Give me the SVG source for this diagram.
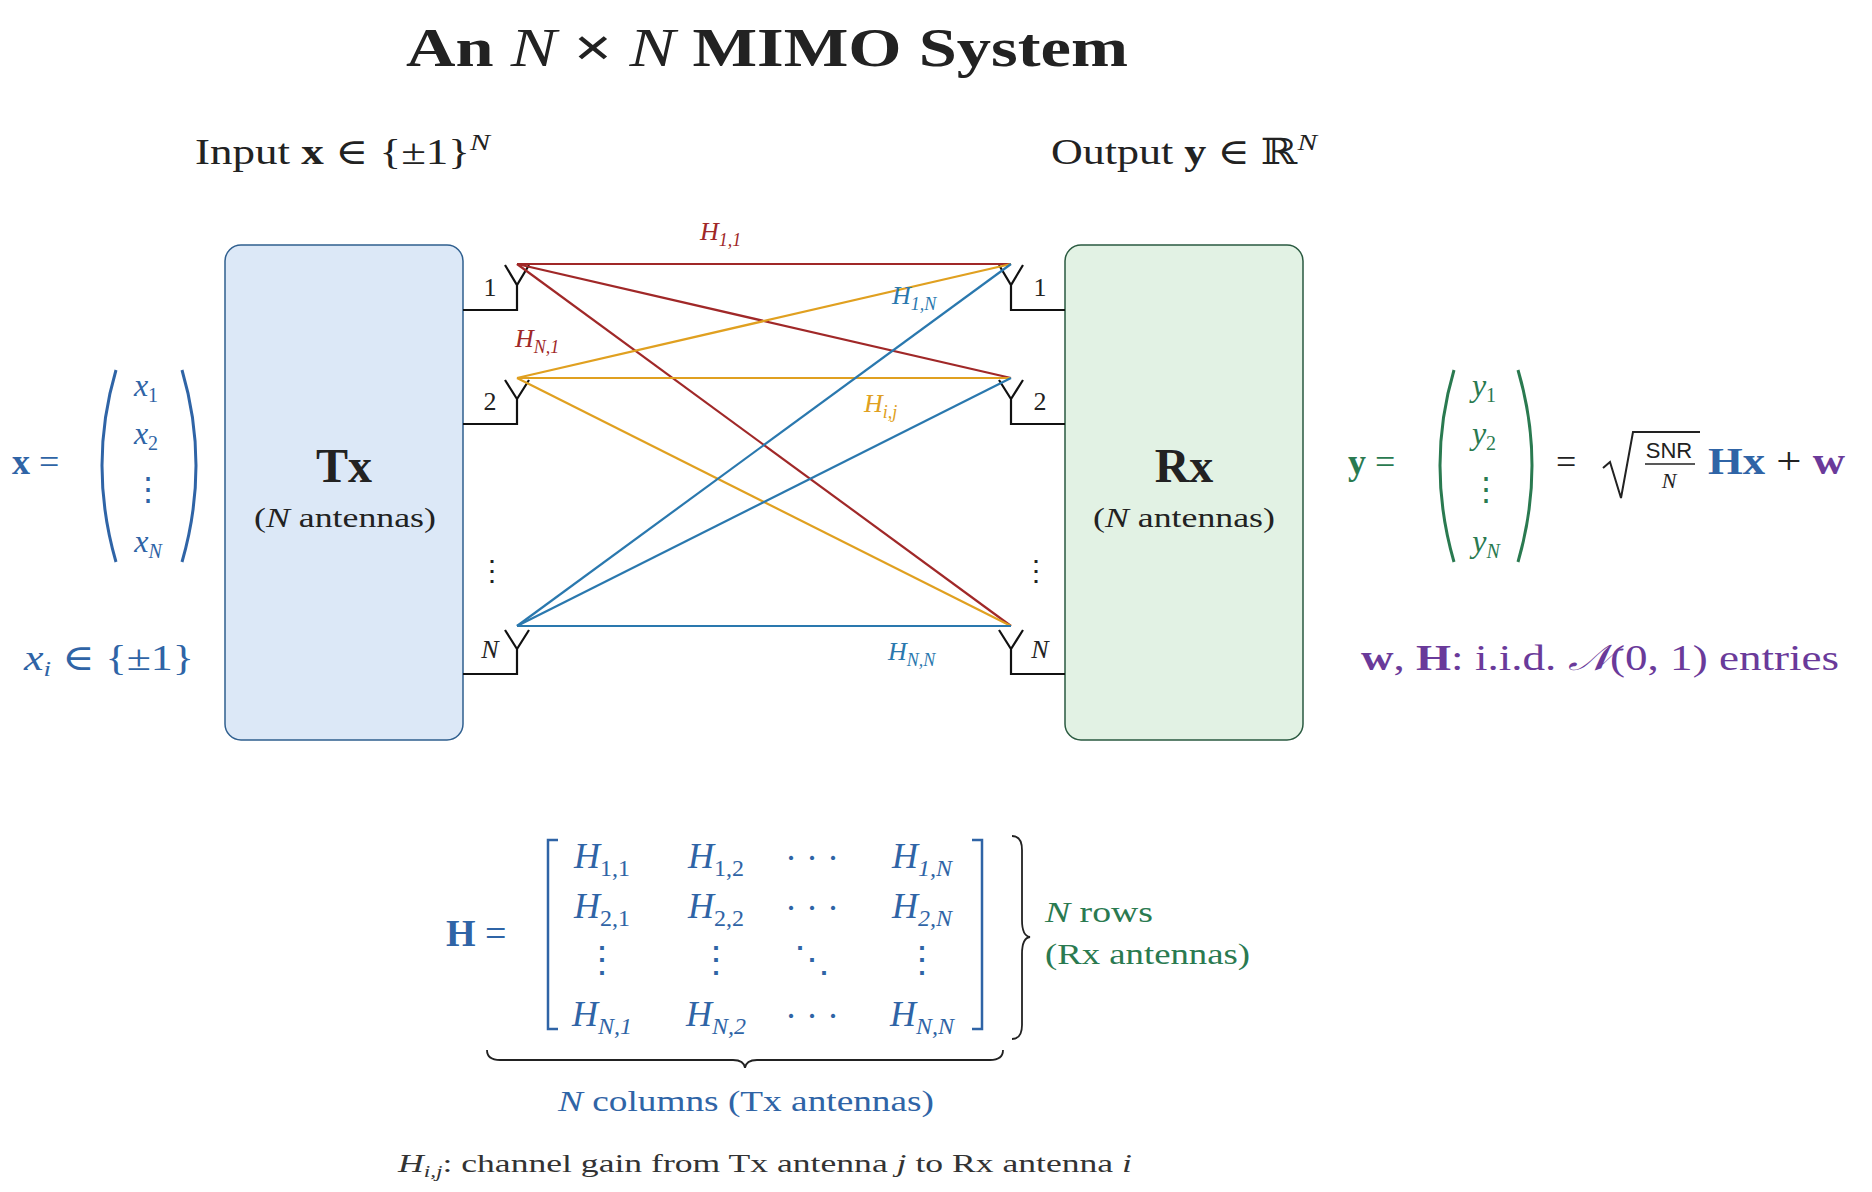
<svg xmlns="http://www.w3.org/2000/svg" width="1872" height="1192" viewBox="0 0 1872 1192">
<style>
text{font-family:"Liberation Serif","DejaVu Serif",serif;fill:#222}
.i{font-style:italic}
.b{font-weight:bold}
.bl{fill:#2f64a6}
.gr{fill:#2a7a50}
.pu{fill:#6a3a9a}
.ant{fill:none;stroke:#111;stroke-width:2.2}
</style>
<rect width="1872" height="1192" fill="#fff"/>
<text x="406" y="66" font-size="54" class="b" textLength="722" lengthAdjust="spacingAndGlyphs">An <tspan class="i" font-weight="normal">N</tspan> × <tspan class="i" font-weight="normal">N</tspan> MIMO System</text>
<text x="195" y="164" font-size="36" textLength="295" lengthAdjust="spacingAndGlyphs">Input <tspan class="b">x</tspan> ∈ {±1}<tspan dy="-14" font-size="24" class="i">N</tspan></text>
<text x="1051" y="164" font-size="36" textLength="266" lengthAdjust="spacingAndGlyphs">Output <tspan class="b">y</tspan> ∈ ℝ<tspan dy="-14" font-size="24" class="i">N</tspan></text>

<g id="tx">
<rect x="225" y="245" width="238" height="495" rx="16" fill="#dce8f7" stroke="#2f5f8f" stroke-width="1.5"/>
<text x="344" y="482" font-size="48" text-anchor="middle" class="b">Tx</text>
<text x="254" y="527" font-size="28" textLength="182" lengthAdjust="spacingAndGlyphs">(<tspan class="i">N</tspan> antennas)</text>
</g>
<g id="rx">
<rect x="1065" y="245" width="238" height="495" rx="16" fill="#e2f2e4" stroke="#2a5a40" stroke-width="1.5"/>
<text x="1184" y="482" font-size="48" text-anchor="middle" class="b">Rx</text>
<text x="1093" y="527" font-size="28" textLength="182" lengthAdjust="spacingAndGlyphs">(<tspan class="i">N</tspan> antennas)</text>
</g>

<g id="tx-antennas">
<path class="ant" d="M463 310H517V285M505 265L517 285L529 265"/>
<path class="ant" d="M463 424H517V399M505 380L517 399L529 380"/>
<path class="ant" d="M463 674H517V649M505 630L517 649L529 630"/>
<text x="490" y="296" font-size="26" text-anchor="middle">1</text>
<text x="490" y="410" font-size="26" text-anchor="middle">2</text>
<text x="490" y="658" font-size="26" text-anchor="middle" class="i">N</text>
<text x="492" y="580" font-size="28" text-anchor="middle">⋮</text>
</g>
<g id="rx-antennas">
<path class="ant" d="M1065 310H1011V285M999 265L1011 285L1023 265"/>
<path class="ant" d="M1065 424H1011V399M999 380L1011 399L1023 380"/>
<path class="ant" d="M1065 674H1011V649M999 630L1011 649L1023 630"/>
<text x="1040" y="296" font-size="26" text-anchor="middle">1</text>
<text x="1040" y="410" font-size="26" text-anchor="middle">2</text>
<text x="1040" y="658" font-size="26" text-anchor="middle" class="i">N</text>
<text x="1036" y="580" font-size="28" text-anchor="middle">⋮</text>
</g>

<g id="connectors" stroke-width="2.2" fill="none">
<g stroke="#a02828">
<line x1="517" y1="264" x2="1011" y2="264"/>
<line x1="517" y1="264" x2="1011" y2="378"/>
<line x1="517" y1="264" x2="1011" y2="626"/>
</g>
<g stroke="#e0a020">
<line x1="517" y1="378" x2="1011" y2="264"/>
<line x1="517" y1="378" x2="1011" y2="378"/>
<line x1="517" y1="378" x2="1011" y2="626"/>
</g>
<g stroke="#2a78ae">
<line x1="517" y1="626" x2="1011" y2="264"/>
<line x1="517" y1="626" x2="1011" y2="378"/>
<line x1="517" y1="626" x2="1011" y2="626"/>
</g>
</g>
<g id="labels" font-size="26">
<text x="700" y="240" class="i" style="fill:#a02828">H<tspan dy="6" font-size="18">1,1</tspan></text>
<text x="515" y="347" class="i" style="fill:#a02828">H<tspan dy="6" font-size="18">N,1</tspan></text>
<text x="892" y="304" class="i" style="fill:#2a78ae">H<tspan dy="6" font-size="18">1,N</tspan></text>
<text x="864" y="412" class="i" style="fill:#e0a020">H<tspan dy="6" font-size="18">i,j</tspan></text>
<text x="888" y="660" class="i" style="fill:#2a78ae">H<tspan dy="6" font-size="18">N,N</tspan></text>
</g>

<g id="x-vector">
<text x="12" y="474" font-size="36" class="bl"><tspan class="b">x</tspan> =</text>
<path d="M116 370Q88 465 116 562" fill="none" stroke="#2f64a6" stroke-width="3"/>
<path d="M182 370Q210 465 182 562" fill="none" stroke="#2f64a6" stroke-width="3"/>
<g font-size="32" class="i" text-anchor="middle">
<text x="146" y="396" class="bl">x<tspan dy="6" font-size="20" font-style="normal">1</tspan></text>
<text x="146" y="444" class="bl">x<tspan dy="6" font-size="20" font-style="normal">2</tspan></text>
<text x="148" y="500" class="bl" font-style="normal">⋮</text>
<text x="148" y="552" class="bl">x<tspan dy="6" font-size="20">N</tspan></text>
</g>
<text x="24" y="670" font-size="36" class="bl" textLength="170" lengthAdjust="spacingAndGlyphs"><tspan class="i">x<tspan dy="6" font-size="22">i</tspan></tspan><tspan dy="-6"> ∈ {±1}</tspan></text>
</g>

<g id="y-eq">
<text x="1348" y="474" font-size="36" class="gr"><tspan class="b">y</tspan> =</text>
<path d="M1454 370Q1426 465 1454 562" fill="none" stroke="#2a7a50" stroke-width="3"/>
<path d="M1518 370Q1546 465 1518 562" fill="none" stroke="#2a7a50" stroke-width="3"/>
<g font-size="32" class="i" text-anchor="middle">
<text x="1484" y="396" class="gr">y<tspan dy="6" font-size="20" font-style="normal">1</tspan></text>
<text x="1484" y="444" class="gr">y<tspan dy="6" font-size="20" font-style="normal">2</tspan></text>
<text x="1486" y="500" class="gr" font-style="normal">⋮</text>
<text x="1486" y="552" class="gr">y<tspan dy="6" font-size="20">N</tspan></text>
</g>
<text x="1556" y="474" font-size="36">=</text>
<path d="M1603 468L1610 462L1621 498L1633 432H1700" fill="none" stroke="#222" stroke-width="2"/>
<text x="1669" y="458" font-size="22" text-anchor="middle" style="font-family:'Liberation Sans',sans-serif">SNR</text>
<line x1="1645" y1="464" x2="1695" y2="464" stroke="#222" stroke-width="1.5"/>
<text x="1669" y="488" font-size="22" text-anchor="middle" class="i">N</text>
<text x="1708" y="474" font-size="38" textLength="137" lengthAdjust="spacingAndGlyphs"><tspan class="b bl">Hx</tspan> + <tspan class="b pu">w</tspan></text>
<text x="1361" y="670" font-size="36" class="pu" textLength="478" lengthAdjust="spacingAndGlyphs"><tspan class="b">w</tspan>, <tspan class="b">H</tspan>:  i.i.d. <tspan class="i">𝒩</tspan>(0, 1) entries</text>
</g>

<g id="matrix">
<text x="446" y="946" font-size="38" class="bl"><tspan class="b">H</tspan> =</text>
<path d="M558 840H548V1029H558" fill="none" stroke="#2f64a6" stroke-width="2.5"/>
<path d="M972 840H982V1029H972" fill="none" stroke="#2f64a6" stroke-width="2.5"/>
<g font-size="36" class="i bl" text-anchor="middle">
<text x="602" y="868" class="bl">H<tspan dy="8" font-size="24" font-style="normal">1,1</tspan></text>
<text x="716" y="868" class="bl">H<tspan dy="8" font-size="24" font-style="normal">1,2</tspan></text>
<text x="812" y="870" class="bl" font-style="normal">· · ·</text>
<text x="922" y="868" class="bl">H<tspan dy="8" font-size="24">1,N</tspan></text>
<text x="602" y="918" class="bl">H<tspan dy="8" font-size="24" font-style="normal">2,1</tspan></text>
<text x="716" y="918" class="bl">H<tspan dy="8" font-size="24" font-style="normal">2,2</tspan></text>
<text x="812" y="920" class="bl" font-style="normal">· · ·</text>
<text x="922" y="918" class="bl">H<tspan dy="8" font-size="24">2,N</tspan></text>
<text x="602" y="972" class="bl" font-style="normal">⋮</text>
<text x="716" y="972" class="bl" font-style="normal">⋮</text>
<text x="812" y="972" class="bl" font-style="normal">⋱</text>
<text x="922" y="972" class="bl" font-style="normal">⋮</text>
<text x="602" y="1026" class="bl">H<tspan dy="8" font-size="24">N,1</tspan></text>
<text x="716" y="1026" class="bl">H<tspan dy="8" font-size="24">N,2</tspan></text>
<text x="812" y="1028" class="bl" font-style="normal">· · ·</text>
<text x="922" y="1026" class="bl">H<tspan dy="8" font-size="24">N,N</tspan></text>
</g>
<path d="M1012 836Q1022 836 1022 850V920Q1022 936 1030 937Q1022 938 1022 954V1025Q1022 1039 1012 1039" fill="none" stroke="#222" stroke-width="1.8"/>
<text x="1045" y="922" font-size="30" class="gr" textLength="108" lengthAdjust="spacingAndGlyphs"><tspan class="i">N</tspan> rows</text>
<text x="1045" y="964" font-size="30" class="gr" textLength="205" lengthAdjust="spacingAndGlyphs">(Rx antennas)</text>
<path d="M487 1050Q487 1060 500 1060H733Q744 1060 745 1068Q746 1060 757 1060H990Q1003 1060 1003 1050" fill="none" stroke="#222" stroke-width="1.8"/>
<text x="558" y="1111" font-size="30" class="bl" textLength="376" lengthAdjust="spacingAndGlyphs"><tspan class="i">N</tspan> columns (Tx antennas)</text>
<text x="398" y="1172" font-size="26" style="fill:#333" textLength="734" lengthAdjust="spacingAndGlyphs"><tspan class="i">H<tspan dy="5" font-size="17">i,j</tspan></tspan><tspan dy="-5">: channel gain from Tx antenna </tspan><tspan class="i">j</tspan> to Rx antenna <tspan class="i">i</tspan></text>
</g>
</svg>
